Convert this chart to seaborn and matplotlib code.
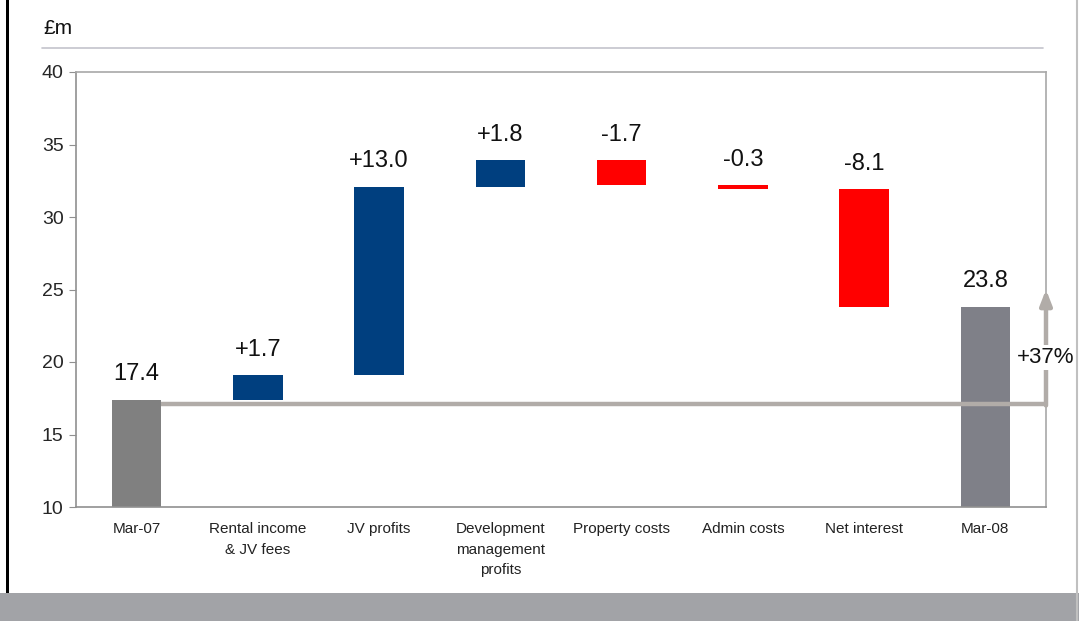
import matplotlib
matplotlib.use("Agg")
import matplotlib.pyplot as plt
import seaborn as sns
import pandas as pd
from matplotlib.patches import Rectangle
from matplotlib.lines import Line2D

# data
categories = ["Mar-07", "Rental income\n& JV fees", "JV profits",
              "Development\nmanagement\nprofits", "Property costs",
              "Admin costs", "Net interest", "Mar-08"]
changes = [17.4, 1.7, 13.0, 1.8, -1.7, -0.3, -8.1, 23.8]
is_total = [True, False, False, False, False, False, False, True]
value_labels = ["17.4", "+1.7", "+13.0", "+1.8", "-1.7", "-0.3", "-8.1", "23.8"]
base_line_value = 17.1
arrow_top_value = 25.0
growth_label = "+37%"

GREY = "#808080"
GREY_END = "#7f8088"
BLUE = "#003f7f"
RED = "#ff0000"
LINE = "#b1aca8"

# waterfall bottoms / heights
bottoms, heights = [], []
running = 0.0
for chg, tot in zip(changes, is_total):
    if tot:
        bottoms.append(0.0)
        heights.append(chg)
        running = chg
    else:
        bottoms.append(min(running, running + chg))
        heights.append(abs(chg))
        running = running + chg
colors = [GREY if i == 0 else GREY_END if t else (BLUE if c > 0 else RED)
          for i, (c, t) in enumerate(zip(changes, is_total))]

df = pd.DataFrame({"category": categories, "height": heights})

sns.set_style("white")
plt.rcParams["font.family"] = ["Liberation Sans", "DejaVu Sans"]

fig = plt.figure(figsize=(10.79, 6.21), dpi=100)
ax = fig.add_axes([76 / 1079, 114 / 621, 970 / 1079, 435 / 621])

sns.barplot(data=df, x="category", y="height", bottom=bottoms, width=0.41,
            color=GREY, saturation=1, ax=ax, zorder=2)
for patch, c in zip(ax.patches, colors):
    patch.set_facecolor(c)
    patch.set_edgecolor("none")

ax.set_ylim(10, 40)
ax.set_xlim(-0.5, len(categories) - 0.5)
ax.set_yticks(range(10, 41, 5))
ax.set_xlabel("")
ax.set_ylabel("")
ax.set_xticks(range(len(categories)))
ax.set_xticklabels(categories, fontsize=11, color="#222222", linespacing=1.6)
ax.set_xticks([i - 0.5 for i in range(len(categories) + 1)], minor=True)
ax.tick_params(axis="x", which="major", length=0, pad=11)
ax.tick_params(axis="x", which="minor", length=5, color="#909090", direction="out")
ax.tick_params(axis="y", length=5, color="#909090", direction="out",
               labelsize=14, pad=4, left=True)
for s in ax.spines.values():
    s.set_color("#a8a8a8")
    s.set_linewidth(1.2)
ax.spines["left"].set_color("#909090")
ax.spines["bottom"].set_color("#909090")

# value labels
for i, (b, h, lab) in enumerate(zip(bottoms, heights, value_labels)):
    ax.annotate(lab, (i, b + h), xytext=(0, 14), textcoords="offset points",
                ha="center", va="baseline", fontsize=17, color="#111111")

# reference line from Mar-07 bar to right edge, then growth arrow
x0 = 0 + 0.205
x1 = len(categories) - 0.5
ax.plot([x0, x1], [base_line_value, base_line_value], color=LINE, lw=3.2,
        zorder=3, clip_on=False, solid_capstyle="butt")
ax.annotate("", xy=(x1, arrow_top_value), xytext=(x1, base_line_value - 0.1),
            arrowprops=dict(arrowstyle="-|>,head_length=0.9,head_width=0.35",
                            color=LINE, lw=3.2, shrinkA=0, shrinkB=0),
            annotation_clip=False, zorder=3)
ax.text(x1, 20.3, growth_label, ha="center", va="center", fontsize=16,
        color="#111111", zorder=4, clip_on=False,
        bbox=dict(facecolor="white", edgecolor="none", pad=1.5))

# header text and rule
fig.text(43 / 1079, 1 - 29 / 621, "£m", fontsize=15, ha="left", va="center",
         color="#111111")
fig.add_artist(Line2D([42 / 1079, 1043 / 1079], [1 - 48 / 621, 1 - 48 / 621],
                      color="#c4c4cc", lw=1.2))

# slide frame: left border, right edge line, bottom band
fig.add_artist(Rectangle((6 / 1079, 0), 3 / 1079, 1, transform=fig.transFigure,
                         color="#000000", lw=0))
fig.add_artist(Rectangle((0, 0), 1, 28 / 621, transform=fig.transFigure,
                         color="#a2a3a7", lw=0))
fig.add_artist(Line2D([1077 / 1079, 1077 / 1079], [0, 1], color="#c0c0c0", lw=1.5))

fig.savefig("out.png", dpi=100)
plt.close(fig)
